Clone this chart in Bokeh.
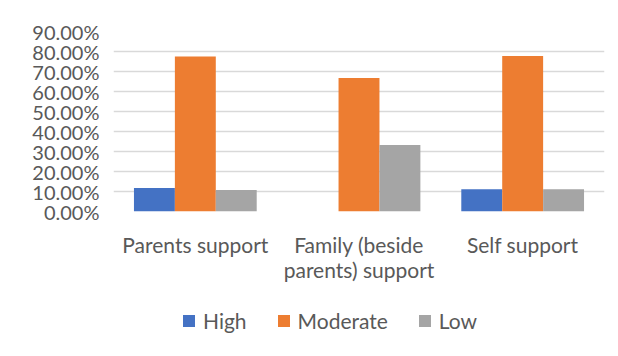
from bokeh.plotting import figure
from bokeh.layouts import column
from bokeh.models import (ColumnDataSource, FactorRange, Range1d, FixedTicker,
                          NumeralTickFormatter, Legend, LegendItem)
from bokeh.transform import dodge
from bokeh.embed import file_html
from bokeh.resources import INLINE

categories = ["Parents support", "Family (beside\nparents) support", "Self support"]
series = ["High", "Moderate", "Low"]
high = [0.118, 0.0, 0.111]
moderate = [0.775, 0.667, 0.778]
low = [0.107, 0.333, 0.111]
colors = ["#4472C4", "#ED7D31", "#A5A5A5"]
y_ticks = [0.0, 0.1, 0.2, 0.3, 0.4, 0.5, 0.6, 0.7, 0.8, 0.9]

src = ColumnDataSource(dict(cat=categories, High=high, Moderate=moderate, Low=low))

FONT = "Lato"
TXT = "#595959"

p = figure(width=618, height=290, x_range=FactorRange(*categories, range_padding=0),
           y_range=Range1d(0, 0.9), output_backend="svg", toolbar_location=None,
           min_border_left=113, min_border_right=14, min_border_top=31, min_border_bottom=79)
p.outline_line_color = None
p.background_fill_color = "white"
p.border_fill_color = "white"

offsets = [-0.25, 0.0, 0.25]
for s, c, off in zip(series, colors, offsets):
    p.vbar(x=dodge("cat", off, range=p.x_range), top=s, width=0.25, source=src,
           fill_color=c, line_color=None)

p.yaxis.ticker = FixedTicker(ticks=y_ticks)
p.yaxis.formatter = NumeralTickFormatter(format="0.00%")
p.yaxis.axis_line_color = None
p.yaxis.major_tick_line_color = None
p.yaxis.minor_tick_line_color = None
p.yaxis.major_label_text_font = FONT
p.yaxis.major_label_text_font_size = "20px"
p.yaxis.major_label_text_color = TXT
p.yaxis.major_label_standoff = 8

p.xaxis.axis_line_color = None
p.xaxis.major_tick_line_color = None
p.xaxis.minor_tick_line_color = None
p.xaxis.major_label_text_font = FONT
p.xaxis.major_label_text_font_size = "21px"
p.xaxis.major_label_text_line_height = 1.0
p.xaxis.major_label_text_color = TXT
p.xaxis.major_label_standoff = 14

p.xgrid.grid_line_color = None
p.ygrid.grid_line_color = "#D9D9D9"
p.ygrid.grid_line_width = 1.5

# legend strip
lg = figure(width=618, height=66, x_range=FactorRange(*categories), output_backend="svg",
            toolbar_location=None, x_axis_location=None, y_axis_location=None,
            min_border=0)
lg.outline_line_color = None
lg.grid.grid_line_color = None
lrs = []
for s, c, off in zip(series, colors, offsets):
    r = lg.vbar(x=dodge("cat", off, range=lg.x_range), top=s, width=0.25, source=src,
                fill_color=c, line_color=None, visible=False)
    lrs.append(r)

legend = Legend(items=[LegendItem(label=s, renderers=[r]) for s, r in zip(series, lrs)],
                orientation="horizontal", location=(68, 23),
                glyph_width=15, glyph_height=15, label_standoff=7, spacing=29,
                padding=0, margin=0, border_line_color=None, background_fill_alpha=0,
                label_text_font=FONT, label_text_font_size="21px", label_text_color=TXT)
lg.add_layout(legend, "center")

layout = column(p, lg)
open("out.html", "w").write(file_html(layout, INLINE))
